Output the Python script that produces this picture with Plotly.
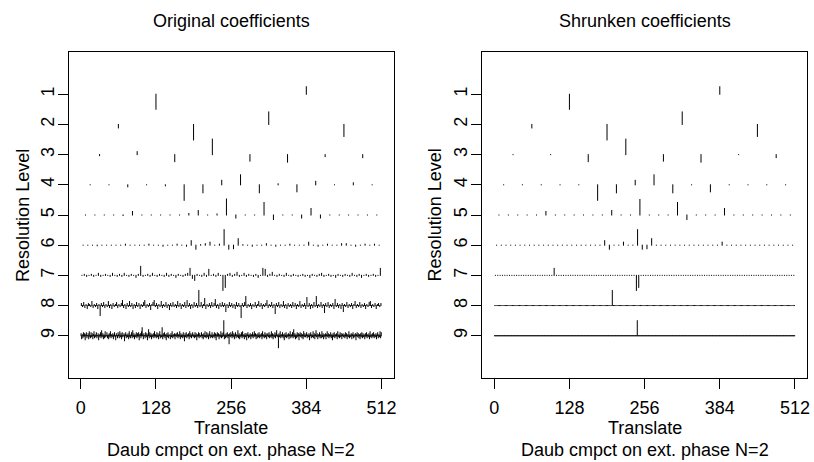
import plotly.graph_objects as go

N_TRANSLATE = 512
X_TICKS = [0, 128, 256, 384, 512]
X_TICK_TEXT = ["0", "128", "256", "384", "512"]
Y_TICKS = [1, 2, 3, 4, 5, 6, 7, 8, 9]
Y_TICK_TEXT = ["1", "2", "3", "4", "5", "6", "7", "8", "9"]

TITLE_LEFT = "Original coefficients"
TITLE_RIGHT = "Shrunken coefficients"
X_LABEL = "Translate"
Y_LABEL = "Resolution Level"
SUBTITLE = "Daub cmpct on ext. phase N=2"

# ---- Original coefficients (per resolution level, positive = upward) ----
orig_l1 = [-15, 7.5]
orig_l2 = [-3.5, -15.5, 12.5, -12]
orig_l3 = [-1, 3, -7, 15.5, -6.5, -7.5, -2, -3]
orig_l4 = [0, 0, -2, 0, -1, -15.5, -8, 4.5, 10, -8, 1, -7, 3.5, 0, 2, 0]
orig_l5 = [0, 0, 0, 0, -0.5, 3.5, 0, 0, 0, 0, 0, 1.5, 4.5, 0, 1, 16,
           -3, 0, 0, 12.5, -4.5, 0, 0, -3, 6.5, -3, 0, 0, 0, 0, 0, 0]
orig_l6 = [0, 0, 0, -0.5, 0, 0, 0, 0, 0, 1, 0, 0, 0, 0, 1, 0,
           0, -1, 0, 0, 1, 0, -1, 4.5, -4, 0.5, 1.5, 3, 0, 1, 15.5, -4,
           -3.5, 6.5, 0.5, 0, -1, 0, 0, 1.5, 0, -1, 0, 0, 1, 0, 0, 0,
           3, 0, -1, 0, 1, 0, 0, 1.5, 1.5, 0, -1, 0, 1, 0, 1, 0]
orig_l7 = [0, 1, -1, 0, 1, -1, 0, 2, -1, 0, 1, 0, -1, 2, 0, -1,
           1, -1, 2, 0, -1, 1, 0, -2, 1, 9, -1, 0, 1, -1, 2, 0,
           -1, 1, 0, -1, 2, -1, 1, 0, -2, 1, 0, -1, 1, 2, 7, -3,
           -5, 1, 0, -1, 2, -1, 6, 0, 1, -1, 2, 0, -15, -12, 1, 2,
           -1, 1, 3, -1, 0, 2, -1, 1, 0, -1, 1, -2, 0, 7, 6, -1,
           1, 3, 0, -1, 1, 0, -1, 2, 0, -1, 1, 0, -1, 0, 1, -1,
           0, -2, 1, 0, -1, 1, 2, -1, 0, 1, -1, 0, -2, 1, 0, -1,
           1, 0, -1, 2, 0, -1, 1, -2, 0, 1, -1, 0, 1, -1, 0, 7]
orig_l8 = [2, -1, 3, -2, 1, -3, 2, 1, -1, 4, -2, 1, -1, 2, -3, 1,
           -10, 2, -1, 3, -2, 1, -1, 4, -2, 1, -3, 2, -1, 1, 3, -2,
           1, -1, 2, 5, -2, 1, -3, 2, -1, 4, -1, 2, -3, 1, -2, 3,
           -1, 2, -3, 1, -1, 3, 5, -2, 1, -1, 2, -4, 1, 3, 5, -1,
           2, -3, 1, -1, 4, -2, 1, -1, 3, -2, 1, -4, 2, -1, 3, -1,
           1, -2, 4, -1, 2, -3, 1, -1, 3, -2, 5, -1, 2, -3, 1, -2,
           3, -1, 2, -2, 15, -1, 3, -2, 1, 7, -3, 1, -1, 2, -2, 3,
           -1, 2, 6, -2, 1, -3, 2, -1, 3, -1, 2, -6, 1, -2, 3, -1,
           2, -2, 1, -3, 3, -1, 2, -1, -12, 2, -1, 3, 9, -2, 1, -1,
           2, -3, 1, -1, 3, -2, 1, 4, -1, 2, -3, 1, -1, 2, 5, -2,
           1, -1, 3, -2, 1, -8, 2, -1, 3, -2, 1, -1, 4, -2, 1, -3,
           2, -1, 1, -2, 3, -1, 2, -3, 1, -1, 4, -2, 1, -1, 2, -3,
           8, -1, 2, -3, 1, -2, 3, -1, 9, -2, 1, -1, 3, -2, 1, -7,
           2, -1, 3, -2, 1, -1, 2, -3, 6, -1, 2, -2, 1, -3, 2, -6,
           1, -1, 3, -2, 1, -1, 2, -3, 1, 4, -2, 1, -1, 3, -2, 1,
           -1, 2, -3, 1, -1, 3, 4, -2, 1, -1, 2, -3, 1, 2, -1, 2]
orig_l9 = [2, -3, 1, -2, 3, -1, 2, -4, 1, 3, -2, 0, 2, -3, 4, -1, -2, 3, -1, 2, -3, 1, 4, -2, 1, -1, 3, -2, 0, 2, -4, 1,
           -1, 3, -2, 5, -1, 2, -3, 1, -2, 4, -1, 0, 3, -2, 1, -3, 2, -1, 4, -2, 1, -1, 2, -3, 1, 3, -1, -4, 2, 0, -2, 3,
           1, -2, 4, -1, 2, -3, 3, -1, 0, 2, -5, 1, 3, -2, 1, -1, 2, -3, 4, -1, -2, 1, 3, -2, 5, -1, 2, -3, 1, -1, 3, -2,
           2, -1, 3, -4, 1, 2, -2, 4, 8, 1, -3, 2, 0, -2, 3, -1, 2, -4, 1, 6, -2, 3, -1, 2, -3, 1, -1, 2, -2, 4, -1, 1,
           -2, 3, -1, 2, -3, 1, 4, -2, 1, -1, 8, -3, 2, -1, 3, -2, 1, -4, 2, -1, 3, -2, 1, 0, -3, 2, -1, 4, -2, 1, -1, 2,
           -3, 1, 2, -1, 3, -2, 1, -1, 4, -3, 2, -1, 1, -2, 3, -1, -5, 2, -1, 3, -2, 1, -1, 2, -3, 4, -1, 2, -2, 1, 3, -1,
           1, -2, 3, -1, 2, -4, 1, -1, 3, -2, 2, -1, 0, 3, -2, 1, -3, 2, -1, 4, -1, -2, 3, -1, 2, -3, 1, 4, -2, 1, -1, 3,
           -2, 1, -1, 3, -2, 2, -4, 1, 3, -1, 2, -3, 1, -1, 4, -2, 2, -1, 3, 15, -3, 1, -2, 2, -1, 3, -2, 1, -8, 2, -1, 3,
           1, -2, 4, -1, 2, -3, 1, 3, -2, 1, -1, 5, -2, 2, -3, 1, -1, 3, -2, 4, -1, 1, -3, 2, -1, 2, -4, 1, 3, -2, 1, -1,
           2, -3, 1, -1, 3, -2, 1, 4, -1, 2, -3, 1, -2, 2, -1, 3, -2, 1, -1, 2, -3, 4, -1, 1, -2, 3, -1, 2, -3, 1, 2, -1,
           3, -2, 1, -1, 4, -2, 2, -3, 1, -1, 3, -2, 2, 5, -1, 1, -12, 2, -1, 4, -2, 1, -1, 3, -2, 1, -4, 2, -1, 3, -2, 1,
           -1, 2, -3, 1, 4, -2, 1, -1, 3, -2, 6, -1, 2, -3, 1, -2, 3, -1, 2, -4, 1, 3, -1, 2, -2, 1, -3, 4, -1, 2, -1, 1,
           3, -2, 1, -1, 2, -4, 1, 3, -2, 1, -1, 4, -2, 2, -3, 1, 5, -1, 2, -3, 1, -1, 3, -2, 1, -2, 4, -1, 2, -3, 1, -1,
           2, -3, 1, 4, -1, 2, -2, 1, -1, 3, -2, 1, -4, 2, -1, 3, -2, 1, -1, 2, -3, 4, -1, 1, -2, 3, -1, 2, -3, 1, 2, -1,
           1, -2, 3, -1, 2, -3, 1, -1, 4, -2, 1, -1, 2, -3, 1, 3, -2, 1, -1, 2, -4, 1, 3, -1, 2, -2, 1, -3, 2, -1, 3, -2,
           2, -1, 1, -3, 2, -1, 3, -2, 1, -1, 2, -3, 4, -1, 1, -2, 2, -1, 3, -2, 1, -1, 2, -3, 1, 3, -2, 1, -1, 4, -2, 3]

# ---- Shrunken coefficients ----
shr_l1 = [-15, 7.5]
shr_l2 = [-3.5, -15.5, 12.5, -12]
shr_l3 = [0, 0, -7, 15.5, -6.5, -7.5, 0, -3]
shr_l4 = [0, 0, 0, 0, 0, -15.5, -8, 4.5, 10, -8, 0, -7, 0, 0, 0, 0]
shr_l5 = [0, 0, 0, 0, 0, 3.5, 0, 0, 0, 0, 0, 0, 4.5, 0, 0, 15.5,
          0, 0, 0, 12.5, -4.5, 0, 0, 0, 6.5, 0, 0, 0, 0, 0, 0, 0]
shr_l6 = [0] * 64
for _k, _v in [(23, 4.5), (24, -4), (27, 3), (30, 15.5), (31, -4), (32, -3.5), (33, 6.5), (48, 3)]:
    shr_l6[_k] = _v
shr_l7 = [0] * 128
for _k, _v in [(25, 7), (60, -15), (61, -12)]:
    shr_l7[_k] = _v
shr_l8 = [0] * 256
shr_l8[100] = 15
shr_l9 = [0] * 512
shr_l9[243] = 15

ORIG = [orig_l1, orig_l2, orig_l3, orig_l4, orig_l5, orig_l6, orig_l7, orig_l8, orig_l9]
SHRUNK = [shr_l1, shr_l2, shr_l3, shr_l4, shr_l5, shr_l6, shr_l7, shr_l8, shr_l9]

# ---- geometry / style ----
W, H = 814, 462
PX_PER_LEVEL = 30.19
SCALE = 1.0 / PX_PER_LEVEL
CAP = 0.5 / PX_PER_LEVEL
FONT = "Liberation Sans, Arial, Helvetica, sans-serif"
FS = 18


def segments(levels):
    xs, ys = [], []
    for lev, vals in enumerate(levels, start=1):
        n = len(vals)
        w = N_TRANSLATE / n
        for k, v in enumerate(vals):
            x = (k + 0.5) * w
            y0 = lev
            y1 = lev - v * SCALE
            lo = min(y0, y1) - CAP
            hi = max(y0, y1) + CAP
            xs += [x, x, None]
            ys += [lo, hi, None]
    return xs, ys


fig = go.Figure()
for i, levels in enumerate([ORIG, SHRUNK]):
    xs, ys = segments(levels)
    fig.add_trace(go.Scatter(
        x=xs, y=ys, mode="lines",
        line=dict(color="black", width=1),
        xaxis="x" if i == 0 else "x2",
        yaxis="y" if i == 0 else "y2",
        hoverinfo="skip", showlegend=False,
    ))

px2x = lambda p: p / W
px2y = lambda p: 1 - p / H

xdom_l = [px2x(69), px2x(395)]
xdom_r = [px2x(484), px2x(810)]
ydom = [px2y(378), px2y(52)]

xa = dict(range=[-20.48, 532.48], tickvals=X_TICKS, ticktext=X_TICK_TEXT,
          ticks="outside", ticklen=10, tickwidth=1, tickcolor="black",
          showline=True, linecolor="black", linewidth=1, mirror=True,
          showgrid=False, zeroline=False, ticklabelstandoff=3,
          tickfont=dict(family=FONT, size=FS, color="black"))
ya = dict(range=[10.4, -0.4], tickvals=Y_TICKS, ticktext=Y_TICK_TEXT,
          ticks="outside", ticklen=10, tickwidth=1, tickcolor="black",
          showline=True, linecolor="black", linewidth=1, mirror=True,
          showgrid=False, zeroline=False, tickangle=-90, ticklabelstandoff=-3,
          tickfont=dict(family=FONT, size=FS, color="black"))

annotations = []
for cx, title, ylab_x in [(232, TITLE_LEFT, 23), (647, TITLE_RIGHT, 437)]:
    annotations.append(dict(x=px2x(cx), y=px2y(21), text=title))
    annotations.append(dict(x=px2x(cx), y=px2y(428), text=X_LABEL))
    annotations.append(dict(x=px2x(cx), y=px2y(450), text=SUBTITLE))
    annotations.append(dict(x=px2x(ylab_x), y=px2y(215), text=Y_LABEL, textangle=-90))
for a in annotations:
    a.update(xref="paper", yref="paper", showarrow=False, xanchor="center",
             yanchor="middle", font=dict(family=FONT, size=FS, color="black"))

fig.update_layout(
    width=W, height=H,
    margin=dict(l=0, r=0, t=0, b=0),
    paper_bgcolor="white", plot_bgcolor="white",
    xaxis=dict(domain=xdom_l, anchor="y", **xa),
    yaxis=dict(domain=ydom, anchor="x", **ya),
    xaxis2=dict(domain=xdom_r, anchor="y2", **xa),
    yaxis2=dict(domain=ydom, anchor="x2", **ya),
    annotations=annotations,
    showlegend=False,
)

fig.write_html("out.html", config={"displayModeBar": False},
               post_script="document.body.style.margin='0px';")
